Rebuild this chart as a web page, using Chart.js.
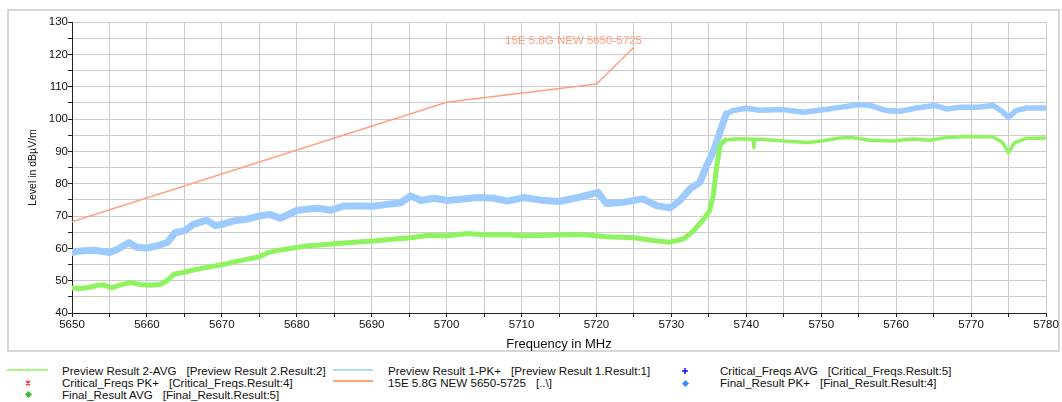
<!DOCTYPE html>
<html>
<head>
<meta charset="utf-8">
<script src="https://cdn.jsdelivr.net/npm/chart.js@4.4.1/dist/chart.umd.min.js"></script>
<style>
  html, body { margin: 0; padding: 0; background: #fff; }
  body { width: 1062px; height: 402px; position: relative; overflow: hidden; font-family: "Liberation Sans", Arial, sans-serif; }
  #frame { position: absolute; left: 7px; top: 9px; width: 1049px; height: 339px; border: 2px solid #d6d6d6; }
  #wrap { position: absolute; left: 0; top: 0; width: 1062px; height: 352px; }
  .lg { position: absolute; font-size: 11.6px; line-height: 12px; color: #111; white-space: nowrap; }
  .lg .b { margin-left: 10px; }
  .mk { position: absolute; line-height: 0; }
  .mk svg { display: block; }
</style>
</head>
<body>
<div id="frame"></div>
<div id="wrap"><canvas id="c" width="1062" height="352"></canvas></div>
<div id="legend"></div>
<script>
// ---- data ----
const avgFreq  = [5650,5651,5652,5653.3,5654.2,5655.3,5656.4,5657.8,5659.1,5660.5,5661.8,5662.7,5663.6,5665,5666.2,5668,5670,5671.6,5673.3,5675,5676,5677.3,5678.7,5680,5681.6,5683,5685,5687.2,5690.2,5692.6,5695.2,5697.4,5700,5702.8,5705,5708,5710,5712.5,5715,5718,5721.3,5725,5727.6,5729.8,5731.6,5732.9,5734.3,5735.1,5735.6,5736,5736.5,5737.2,5739.2,5740.9,5741,5741.1,5742,5745,5748.2,5750,5752.5,5754,5756.5,5759.6,5762.2,5764.5,5766.7,5769.3,5772.9,5774.2,5775,5775.8,5777.4,5780];
const avgLevel = [47.7,47.6,47.8,48.5,48.7,47.8,48.6,49.4,48.8,48.6,48.9,50.0,52.0,52.6,53.3,54.1,54.9,55.8,56.6,57.4,58.5,59.3,59.8,60.3,60.8,61.0,61.4,61.8,62.3,62.8,63.3,64.0,63.9,64.6,64.2,64.2,63.9,64.0,64.1,64.3,63.6,63.3,62.4,61.9,62.9,65.3,69.0,71.6,76.5,84.5,92.0,93.5,93.9,93.7,91.2,93.7,93.7,93.2,92.7,93.2,94.1,94.3,93.4,93.2,93.8,93.4,94.3,94.6,94.5,92.7,89.6,92.7,94.0,94.1];

const pkFreq  = [5650,5651.1,5652.9,5655,5656.1,5657.6,5658.7,5660,5661.4,5662.7,5663.8,5665,5666.2,5668,5669.1,5670,5671.6,5673.3,5675,5676.4,5677.8,5680,5681.6,5682.8,5684.6,5686.3,5688.6,5690.2,5692.1,5693.9,5695.2,5696.6,5698.3,5700.1,5701.9,5704.1,5706.3,5708.1,5710.3,5712.6,5715,5717.7,5720.2,5721.3,5723.5,5726.2,5728,5729.8,5731.1,5732.5,5733.8,5734.7,5735.6,5736.4,5737.3,5738.2,5740,5741.8,5745,5747.6,5750,5752.5,5755.1,5756.5,5758.7,5760.5,5762.7,5765.1,5766.7,5768.5,5770.7,5772.9,5774,5775,5776,5777.4,5780];
const pkLevel = [58.7,59.2,59.4,58.7,59.7,61.8,60.3,60.1,60.8,61.8,64.9,65.4,67.4,68.7,67.0,67.4,68.5,69.0,70.0,70.5,69.3,71.7,72.2,72.4,71.8,73.1,73.1,73.0,73.6,74.1,76.2,74.8,75.5,74.8,75.2,75.7,75.5,74.6,75.7,74.9,74.5,75.8,77.3,73.9,74.2,75.3,73.2,72.5,74.7,78.4,80.4,85.5,90.0,95.5,101.5,102.6,103.3,102.7,102.9,102.1,102.8,103.6,104.5,104.2,102.6,102.4,103.4,104.2,103.1,103.6,103.6,104.2,102.6,100.5,102.6,103.4,103.4];

const limitFreq  = [5650, 5700, 5720, 5725];
const limitLevel = [68.2, 105.2, 110.8, 122.2];
const limitName  = "15E 5.8G NEW 5650-5725";

const xMin = 5650, xMax = 5780, xStep = 5, xLabelStep = 10;
const yMin = 40, yMax = 130, yStep = 5, yLabelStep = 10;

const legendItems = [
  ["Preview Result 2-AVG", "[Preview Result 2.Result:2]"],
  ["Critical_Freqs PK+", "[Critical_Freqs.Result:4]"],
  ["Final_Result AVG", "[Final_Result.Result:5]"],
  ["Preview Result 1-PK+", "[Preview Result 1.Result:1]"],
  ["15E 5.8G NEW 5650-5725", "[..\\]"],
  ["Critical_Freqs AVG", "[Critical_Freqs.Result:5]"],
  ["Final_Result PK+", "[Final_Result.Result:4]"]
];

// ---- chart ----
const GREEN = '#8ef35f', BLUE = '#9dcbff', ORANGE = '#ffa07f';
const FONT = '"Liberation Sans", Arial, sans-serif';
const pts = (xs, ys) => xs.map((x, i) => ({x, y: ys[i]}));

const limitLabel = {
  id: 'limitLabel',
  afterDatasetsDraw(chart) {
    const xs = chart.scales.x, ys = chart.scales.y, ctx = chart.ctx;
    const n = limitFreq.length - 1;
    ctx.save();
    ctx.font = '11.5px ' + FONT;
    ctx.fillStyle = ORANGE;
    ctx.textAlign = 'right';
    ctx.textBaseline = 'middle';
    ctx.fillText(limitName, xs.getPixelForValue(limitFreq[n]) + 8, ys.getPixelForValue(limitLevel[n]) - 6);
    ctx.restore();
  }
};

new Chart(document.getElementById('c'), {
  type: 'line',
  data: {
    datasets: [
      { label: 'Preview Result 2-AVG', data: pts(avgFreq, avgLevel), borderColor: GREEN, pointRadius: 0, tension: 0,
        borderJoinStyle: 'round', borderCapStyle: 'round',
        segment: { borderWidth: c => c.p0.parsed.x < 5737 ? 5 : 3.5 } },
      { label: 'Preview Result 1-PK+', data: pts(pkFreq, pkLevel), borderColor: BLUE, pointRadius: 0, tension: 0,
        borderJoinStyle: 'round', borderCapStyle: 'round',
        segment: { borderWidth: c => c.p0.parsed.x < 5737 ? 7 : 5.5 } },
      { label: limitName, data: pts(limitFreq, limitLevel), borderColor: ORANGE, borderWidth: 1.5, pointRadius: 0, tension: 0 }
    ]
  },
  options: {
    responsive: false,
    animation: false,
    devicePixelRatio: 1,
    layout: { padding: { left: 27, right: 16, top: 22, bottom: 0 } },
    plugins: { legend: { display: false }, tooltip: { enabled: false } },
    scales: {
      x: {
        type: 'linear', min: xMin, max: xMax,
        afterFit: s => { s.height = 39; },
        ticks: { stepSize: xStep, autoSkip: false, maxRotation: 0, padding: 1,
                 color: '#111', font: { family: FONT, size: 11.5 },
                 callback: v => (v % xLabelStep === 0 ? String(v) : '') },
        grid: { color: '#cccccc', lineWidth: 1, tickColor: '#222', tickLength: 4 },
        border: { color: '#222', width: 1 },
        title: { display: true, text: 'Frequency in MHz', color: '#111', font: { family: FONT, size: 13 }, padding: 0 }
      },
      y: {
        min: yMin, max: yMax,
        afterFit: s => { s.width = 45; },
        ticks: { stepSize: yStep, autoSkip: false, padding: 0,
                 color: '#111', font: { family: FONT, size: 11.5 },
                 callback: v => (v % yLabelStep === 0 ? String(v) : '') },
        grid: { color: '#cccccc', lineWidth: 1, tickColor: '#222', tickLength: 4 },
        border: { color: '#222', width: 1 },
        title: { display: true, text: 'Level in dBµV/m', color: '#111', font: { family: FONT, size: 10.5 }, padding: 0 }
      }
    }
  },
  plugins: [limitLabel]
});

// ---- legend (HTML) ----
const lg = document.getElementById('legend');
const rowY = [371, 383, 395];
const colText = [62, 388, 720];
const place = [[0,0],[0,1],[0,2],[1,0],[1,1],[2,0],[2,1]];
legendItems.forEach((it, i) => {
  const [c, r] = place[i];
  const d = document.createElement('div');
  d.className = 'lg';
  d.style.left = colText[c] + 'px';
  d.style.top = (rowY[r] - 6) + 'px';
  d.innerHTML = '<span></span><span class="b"></span>';
  d.children[0].textContent = it[0];
  d.children[1].textContent = it[1];
  lg.appendChild(d);
});
function marker(svg, x, y, w, h) {
  const m = document.createElement('div');
  m.className = 'mk';
  m.style.left = x + 'px'; m.style.top = y + 'px';
  m.innerHTML = '<svg width="' + w + '" height="' + h + '" xmlns="http://www.w3.org/2000/svg">' + svg + '</svg>';
  lg.appendChild(m);
}
marker('<line x1="0" y1="1" x2="41" y2="1" stroke="' + GREEN + '" stroke-width="1.5"/>', 7, 369, 42, 3);
marker('<line x1="0" y1="1" x2="40" y2="1" stroke="' + BLUE + '" stroke-width="1.5"/>', 333, 369, 41, 3);
marker('<line x1="0" y1="1" x2="40" y2="1" stroke="' + ORANGE + '" stroke-width="1.8"/>', 333, 380, 41, 3);
marker('<path d="M1 1 L5 5 M5 1 L1 5 M3 0.5 L3 5.5" stroke="#ff2020" stroke-width="1.1"/>', 25, 380, 6, 6);
marker('<path d="M3.5 0 L7 3.5 L3.5 7 L0 3.5 Z" fill="#3cbf2c"/>', 25, 391, 7, 7);
marker('<path d="M3 0 L3 6 M0 3 L6 3" stroke="#1010ff" stroke-width="1.6"/>', 682, 368, 6, 6);
marker('<path d="M3.5 0 L7 3.5 L3.5 7 L0 3.5 Z" fill="#3b8ff0"/>', 682, 380, 7, 7);
</script>
</body>
</html>
